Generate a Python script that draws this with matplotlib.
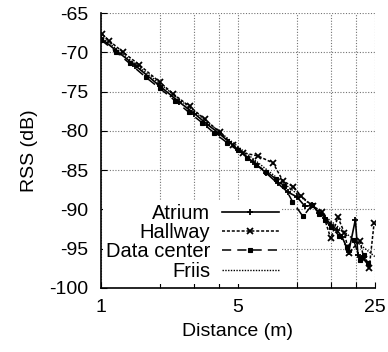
import numpy as np
import matplotlib
matplotlib.use('Agg')
import matplotlib.pyplot as plt
from matplotlib.ticker import FixedLocator, FixedFormatter, NullFormatter

plt.rcParams['font.family'] = ['Liberation Sans', 'DejaVu Sans']
plt.rcParams['axes.unicode_minus'] = False

# data
atrium_d = [1, 1.2, 1.5, 2, 2.5, 3, 3.5, 4, 4.5, 5, 6, 7, 8, 9, 10, 11, 12, 13,
            14, 15, 16, 17, 18.4, 19.9, 20.5, 21.5]
atrium_rss = [-68.2, -69.8, -71.7, -74.3, -76.3, -77.8, -79.2, -80.3, -81.4, -82.4,
              -84.0, -85.4, -86.7, -87.8, -88.4, -89.6, -89.5, -90.4, -91.1, -92.0,
              -92.6, -93.5, -95.4, -91.3, -95.8, -96.2]

hallway_d = [1.015, 1.1, 1.3, 1.57, 2, 2.34, 2.84, 3.39, 4.05, 4.73, 5.33, 6.35,
             7.57, 8.5, 9.6, 10.5, 12.1, 13.5, 14.9, 16.2, 17.5, 18.4, 21.0, 22.0,
             23.4, 24.8]
hallway_rss = [-67.7, -68.5, -70.0, -71.6, -73.8, -75.3, -76.9, -78.5, -80.2, -81.8,
               -82.8, -83.2, -84.1, -86.4, -87.1, -88.3, -89.6, -90.3, -93.7, -91.0,
               -93.0, -95.5, -94.0, -96.3, -97.5, -91.7]

dc_d = [1, 1.2, 1.4, 1.7, 2, 2.4, 2.8, 3.3, 3.8, 4.4, 5, 5.6, 6.2, 7, 7.8, 8.6,
        9.5, 10.75, 12, 13, 14, 15, 16.5, 18, 19.5, 21, 22, 23]
dc_rss = [-68.4, -70.0, -71.4, -73.2, -74.6, -76.2, -77.6, -79.0, -80.3, -81.5,
          -82.5, -83.4, -84.3, -85.2, -86.1, -87.0, -89.0, -90.9, -89.4, -90.6,
          -91.4, -92.3, -93.4, -94.8, -93.9, -96.4, -95.8, -96.8]

friis_d = [1, 2, 5, 10, 25]
friis_rss = [-68.0, -74.0, -82.0, -88.0, -96.0]

fig = plt.figure(figsize=(3.88, 3.52), dpi=100)
ax = fig.add_axes([0.26, 0.182, 0.706, 0.781])

ax.plot(atrium_d, atrium_rss, color='black', lw=1.2, linestyle='-',
        marker='+', ms=5, mew=1.3, label='Atrium')
ax.plot(hallway_d, hallway_rss, color='black', lw=1.1, linestyle=(0, (2, 1.2)),
        marker='x', ms=4.5, mew=1.3, label='Hallway')
ax.plot(dc_d, dc_rss, color='black', lw=1.1, linestyle=(0, (6, 4)),
        marker='s', ms=3, mew=0.8, label='Data center')
ax.plot(friis_d, friis_rss, color='black', lw=1.0, linestyle=(0, (1, 1)),
        label='Friis')

ax.set_xscale('log')
ax.set_xlim(1, 25)
ax.set_ylim(-100, -65)

ax.xaxis.set_major_locator(FixedLocator([1, 5, 25]))
ax.xaxis.set_minor_locator(FixedLocator([2, 3, 4, 10, 15, 20]))
ax.xaxis.set_major_formatter(FixedFormatter(['1', '5', '25']))
ax.xaxis.set_minor_formatter(NullFormatter())
ax.set_yticks(np.arange(-100, -64, 5))

ax.tick_params(which='both', direction='in', labelsize=14, length=4, width=0.8)
ax.tick_params(axis='x', which='major', pad=8)
ax.tick_params(axis='y', pad=9)

ax.grid(True, which='both', color='0.45', linestyle=(0, (1, 1.5)), lw=0.8)
ax.spines['top'].set_visible(False)
ax.spines['right'].set_visible(False)
for s in ('left', 'bottom'):
    ax.spines[s].set_linewidth(1.2)

ax.set_xlabel('Distance (m)', fontsize=14, labelpad=5)
ax.set_ylabel('RSS (dB)', fontsize=14, labelpad=8)

leg = ax.legend(loc='lower right', bbox_to_anchor=(0.66, 0.015), fontsize=14.5,
                markerfirst=False, numpoints=1, handlelength=2.8,
                handletextpad=0.6, labelspacing=0.02, borderpad=0.15,
                borderaxespad=0, frameon=True, fancybox=False)
leg.get_frame().set_facecolor('white')
leg.get_frame().set_edgecolor('none')
leg.get_frame().set_alpha(1)

plt.savefig('out.png', dpi=100)
